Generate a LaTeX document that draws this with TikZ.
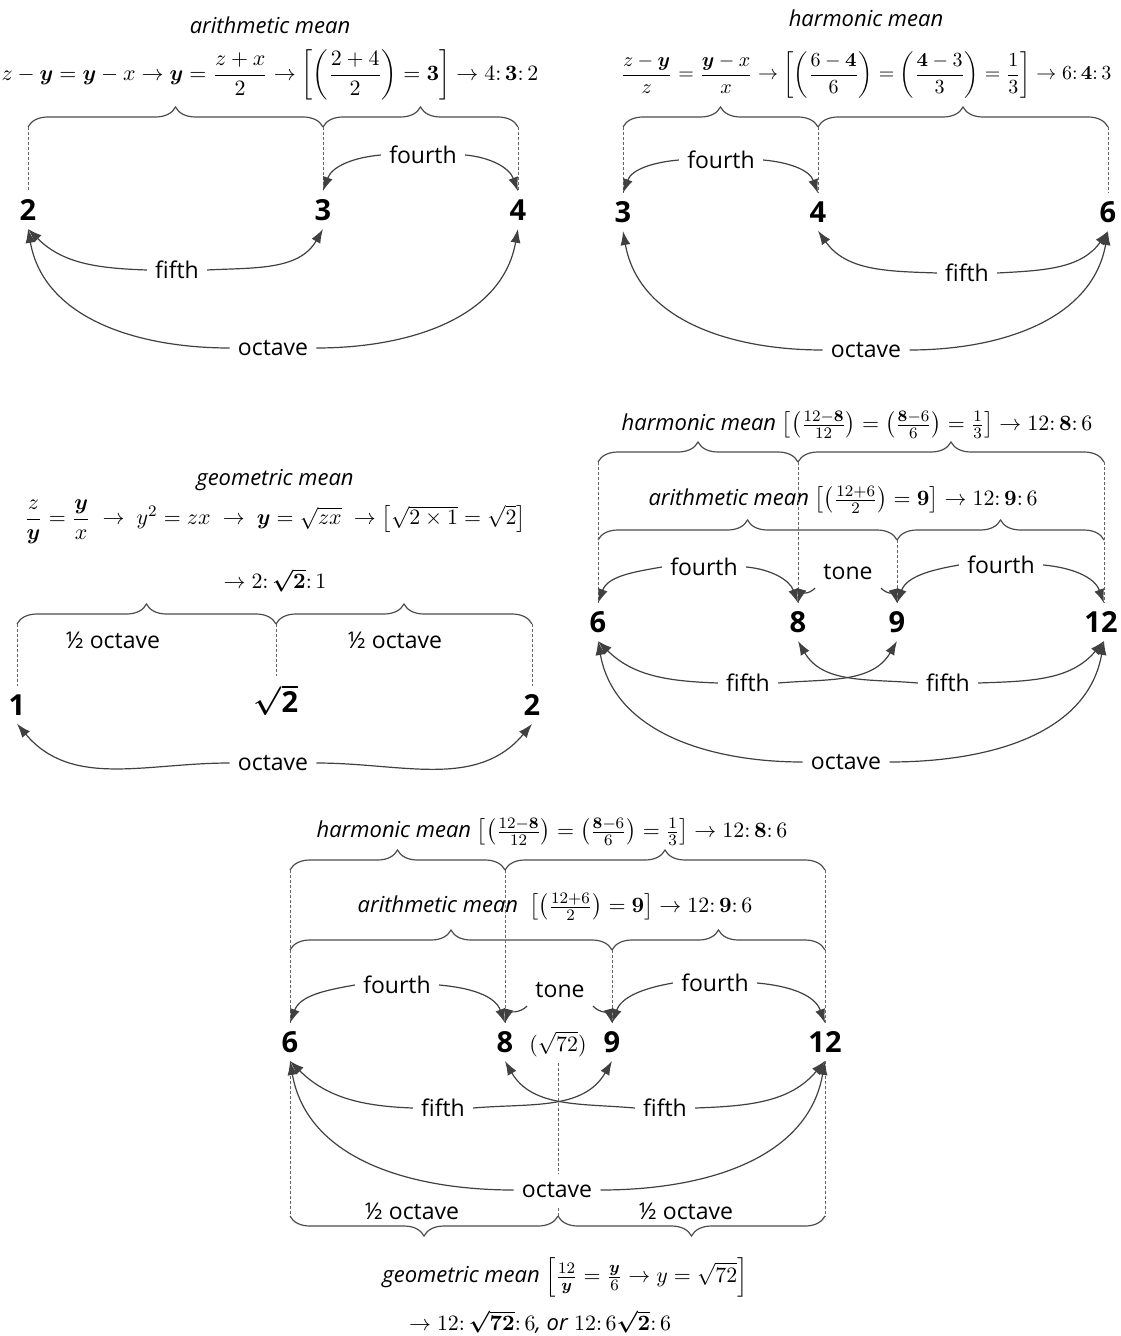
\documentclass[tikz,border=0pt]{standalone}
\usepackage{amsmath,amssymb}
\usepackage[no-math]{fontspec}
\setmainfont{Open Sans}
\usetikzlibrary{arrows.meta,positioning,decorations.pathreplacing}

\begin{document}
\begin{tikzpicture}[x=0.5pt,y=0.5pt,
    num/.style={font=\bfseries\fontsize{14.5}{16}\selectfont,inner sep=4pt},
    lbl/.style={font=\fontsize{11.5}{13}\selectfont,inner sep=4pt,fill=white},
    half/.style={font=\fontsize{11.5}{13}\selectfont,inner sep=1pt},
    ttl/.style={font=\itshape\fontsize{11}{13}\selectfont,inner sep=0pt},
    eqn/.style={font=\fontsize{9.7}{12}\selectfont,inner sep=0pt},
    arr/.style={-{Latex[length=7pt,width=5pt]},draw=black!75,line width=0.6pt},
    brc/.style={decorate,decoration={brace,amplitude=10pt},draw=black!70,line width=0.6pt},
    brcd/.style={decorate,decoration={brace,mirror,amplitude=10pt},draw=black!70,line width=0.6pt},
    dsh/.style={draw=black!60,line width=0.5pt,dash pattern=on 1.5pt off 1pt}
]
\useasboundingbox (0,0) rectangle (1120,-1336);

\node[ttl] (tA) at (270,-25) {arithmetic mean};
\node[eqn,font=\fontsize{10.5}{12}\selectfont] (eA) at (270,-75) {$z-\boldsymbol{y}=\boldsymbol{y}-x\rightarrow\boldsymbol{y}=\dfrac{z+x}{2}\rightarrow\left[\left(\dfrac{2+4}{2}\right)=\mathbf{3}\right]\rightarrow 4{:}\,\mathbf{3}{:}\,2$};
\coordinate (aL) at (28,-127);
\coordinate (aM) at (323,-127);
\coordinate (aR) at (518,-127);
\node[num] (a2) at (28,-210) {2};
\node[num] (a3) at (323,-210) {3};
\node[num] (a4) at (518,-210) {4};
\draw[brc] (aL) -- (aM);
\draw[brc] (aM) -- (aR);
\draw[dsh] (aL) -- (a2.north);
\draw[dsh] (aM) -- (a3.north);
\draw[dsh] (aR) -- (a4.north);
\node[lbl] (aFourth) at (423,-155) {fourth};
\node[lbl] (aFifth) at (177,-270) {fifth};
\node[lbl] (aOctave) at (273,-348) {octave};
\draw[arr] (aFourth.west) to[out=185,in=70] (a3.north);
\draw[arr] (aFourth.east) to[out=-5,in=110] (a4.north);
\draw[arr] (aFifth.west) to[out=178,in=-45] (a2.south);
\draw[arr] (aFifth.east) to[out=3,in=-120] (a3.south);
\draw[arr] (aOctave.west) to[out=180,in=-80] (a2.south);
\draw[arr] (aOctave.east) to[out=0,in=-100] (a4.south);

\node[ttl] (tB) at (866,-18) {harmonic mean};
\node[eqn] (eB) at (866,-75) {$\dfrac{z-\boldsymbol{y}}{z}=\dfrac{\boldsymbol{y}-x}{x}\rightarrow\left[\left(\dfrac{6-\mathbf{4}}{6}\right)=\left(\dfrac{\mathbf{4}-3}{3}\right)=\dfrac{1}{3}\right]\rightarrow 6{:}\,\mathbf{4}{:}\,3$};
\coordinate (bL) at (623,-127);
\coordinate (bM) at (818,-127);
\coordinate (bR) at (1108,-127);
\node[num] (b3) at (623,-212) {3};
\node[num] (b4) at (818,-212) {4};
\node[num] (b6) at (1108,-212) {6};
\draw[brc] (bL) -- (bM);
\draw[brc] (bM) -- (bR);
\draw[dsh] (bL) -- (b3.north);
\draw[dsh] (bM) -- (b4.north);
\draw[dsh] (bR) -- (b6.north);
\node[lbl] (bFourth) at (721,-160) {fourth};
\node[lbl] (bFifth) at (967,-273) {fifth};
\node[lbl] (bOctave) at (866,-350) {octave};
\draw[arr] (bFourth.west) to[out=185,in=70] (b3.north);
\draw[arr] (bFourth.east) to[out=-5,in=110] (b4.north);
\draw[arr] (bFifth.west) to[out=178,in=-55] (b4.south);
\draw[arr] (bFifth.east) to[out=3,in=-125] (b6.south);
\draw[arr] (bOctave.west) to[out=180,in=-80] (b3.south);
\draw[arr] (bOctave.east) to[out=0,in=-100] (b6.south);

\node[ttl] (tC) at (275,-480) {geometric mean};
\node[eqn,font=\fontsize{11.2}{13}\selectfont] (eC) at (275,-522) {$\dfrac{z}{\boldsymbol{y}}=\dfrac{\boldsymbol{y}}{x}\;\rightarrow\;y^2=zx\;\rightarrow\;\boldsymbol{y}=\sqrt{zx}\;\rightarrow\left[\sqrt{2\times1}=\sqrt{2}\right]$};
\node[eqn,font=\fontsize{10.8}{12}\selectfont] (rC) at (275,-580) {$\rightarrow 2{:}\,\boldsymbol{\sqrt{\mathbf{2}}}{:}\,1$};
\coordinate (cL) at (17,-624);
\coordinate (cM) at (276,-624);
\coordinate (cR) at (532,-624);
\node[num] (c1) at (17,-705) {1};
\node[num] (cS) at (276,-700) {$\boldsymbol{\sqrt{\hbox{\bfseries 2}}}$};
\node[num] (c2) at (532,-705) {2};
\draw[brc] (cL) -- (cM);
\draw[brc] (cM) -- (cR);
\draw[dsh] (cL) -- (c1.north);
\draw[dsh] (cM) -- (cS.north);
\draw[dsh] (cR) -- (c2.north);
\node[half] (cHalfL) at (113,-640) {½ octave};
\node[half] (cHalfR) at (395,-640) {½ octave};
\node[lbl] (cOctave) at (273,-763) {octave};
\draw[arr] (cOctave.west) to[out=180,in=-50] (c1.south);
\draw[arr] (cOctave.east) to[out=0,in=-130] (c2.south);

\node[ttl] (tD) at (857,-425) {harmonic mean $\left[\left(\frac{12-\mathbf{8}}{12}\right)=\left(\frac{\mathbf{8}-6}{6}\right)=\frac{1}{3}\right]\rightarrow 12{:}\,\mathbf{8}{:}\,6$};
\node[ttl] (uD) at (843,-500) {arithmetic mean $\left[\left(\frac{12+6}{2}\right)=\mathbf{9}\right]\rightarrow 12{:}\,\mathbf{9}{:}\,6$};
\coordinate (dL) at (598,-462);
\coordinate (dM) at (798,-462);
\coordinate (dR) at (1104,-462);
\coordinate (dL2) at (598,-540);
\coordinate (dM2) at (897,-540);
\coordinate (dR2) at (1104,-540);
\node[num] (d6) at (598,-622) {6};
\node[num] (d8) at (798,-622) {8};
\node[num] (d9) at (897,-622) {9};
\node[num] (d12) at (1101,-622) {12};
\draw[brc] (dL) -- (dM);
\draw[brc] (dM) -- (dR);
\draw[brc] (dL2) -- (dM2);
\draw[brc] (dM2) -- (dR2);
\draw[dsh] (dL) -- (d6.north);
\draw[dsh] (dM) -- (d8.north);
\draw[dsh] (dM2) -- (d9.north);
\draw[dsh] (dR) -- (dR |- d12.north);
\node[lbl] (dFourthL) at (704,-567) {fourth};
\node[lbl] (dTone) at (848,-572) {tone};
\node[lbl] (dFourthR) at (1001,-565) {fourth};
\node[lbl] (dFifthL) at (748,-683) {fifth};
\node[lbl] (dFifthR) at (948,-683) {fifth};
\node[lbl] (dOctave) at (846,-762) {octave};
\draw[arr] (dFourthL.west) to[out=190,in=70] (d6.north);
\draw[arr] (dFourthL.east) to[out=-5,in=110] (d8.north);
\draw[arr] (dTone.south west) to[out=-135,in=75] (d8.north);
\draw[arr] (dTone.south east) to[out=-45,in=105] (d9.north);
\draw[arr] (dFourthR.west) to[out=190,in=70] (d9.north);
\draw[arr] (dFourthR.east) to[out=-5,in=110] (dR |- d12.north);
\draw[arr] (dFifthL.west) to[out=178,in=-45] (d6.south);
\draw[arr] (dFifthL.east) to[out=5,in=-120] (d9.south);
\draw[arr] (dFifthR.west) to[out=175,in=-60] (d8.south);
\draw[arr] (dFifthR.east) to[out=2,in=-130] (dR |- d12.south);
\draw[arr] (dOctave.west) to[out=180,in=-80] (d6.south);
\draw[arr] (dOctave.east) to[out=0,in=-100] (dR |- d12.south);

\node[ttl] (tE) at (552,-832) {harmonic mean $\left[\left(\frac{12-\mathbf{8}}{12}\right)=\left(\frac{\mathbf{8}-6}{6}\right)=\frac{1}{3}\right]\rightarrow 12{:}\,\mathbf{8}{:}\,6$};
\node[ttl] (uE) at (555,-907) {arithmetic mean\ \ $\left[\left(\frac{12+6}{2}\right)=\mathbf{9}\right]\rightarrow 12{:}\,\mathbf{9}{:}\,6$};
\coordinate (eL) at (290,-870);
\coordinate (eM) at (505,-870);
\coordinate (eR) at (825,-870);
\coordinate (eL2) at (290,-950);
\coordinate (eM2) at (612,-950);
\coordinate (eR2) at (825,-950);
\coordinate (eBL) at (290,-1216);
\coordinate (eBM) at (558,-1216);
\coordinate (eBR) at (825,-1216);
\node[num] (e6) at (290,-1042) {6};
\node[num] (e8) at (505,-1042) {8};
\node[eqn,font=\fontsize{10.5}{12}\selectfont,inner sep=3pt] (eS) at (558,-1044) {$(\sqrt{72})$};
\node[num] (e9) at (612,-1042) {9};
\node[num] (e12) at (825,-1042) {12};
\draw[brc] (eL) -- (eM);
\draw[brc] (eM) -- (eR);
\draw[brc] (eL2) -- (eM2);
\draw[brc] (eM2) -- (eR2);
\draw[brcd] (eBL) -- (eBM);
\draw[brcd] (eBM) -- (eBR);
\draw[dsh] (eL) -- (e6.north);
\draw[dsh] (eM) -- (e8.north);
\draw[dsh] (eM2) -- (e9.north);
\draw[dsh] (eR) -- (e12.north);
\draw[dsh] (e6.south) -- (eBL);
\draw[dsh] (e12.south) -- (eBR);
\draw[dsh] (eS.south) -- (eBM);
\node[lbl] (eFourthL) at (397,-985) {fourth};
\node[lbl] (eTone) at (560,-990) {tone};
\node[lbl] (eFourthR) at (715,-983) {fourth};
\node[lbl] (eFifthL) at (443,-1108) {fifth};
\node[lbl] (eFifthR) at (665,-1108) {fifth};
\node[lbl] (eOctave) at (557,-1190) {octave};
\node[half] (eHalfL) at (412,-1211) {½ octave};
\node[half] (eHalfR) at (686,-1211) {½ octave};
\draw[arr] (eFourthL.west) to[out=190,in=70] (e6.north);
\draw[arr] (eFourthL.east) to[out=-5,in=110] (e8.north);
\draw[arr] (eTone.south west) to[out=-135,in=75] (e8.north);
\draw[arr] (eTone.south east) to[out=-45,in=105] (e9.north);
\draw[arr] (eFourthR.west) to[out=190,in=70] (e9.north);
\draw[arr] (eFourthR.east) to[out=-5,in=110] (e12.north);
\draw[arr] (eFifthL.west) to[out=178,in=-45] (e6.south);
\draw[arr] (eFifthL.east) to[out=5,in=-120] (e9.south);
\draw[arr] (eFifthR.west) to[out=175,in=-60] (e8.south);
\draw[arr] (eFifthR.east) to[out=2,in=-130] (e12.south);
\draw[arr] (eOctave.west) to[out=180,in=-80] (e6.south);
\draw[arr] (eOctave.east) to[out=0,in=-100] (e12.south);
\node[ttl] (gE) at (565,-1277) {geometric mean $\left[\frac{12}{\boldsymbol{y}}=\frac{\boldsymbol{y}}{6}\rightarrow y=\sqrt{72}\right]$};
\node[eqn,font=\fontsize{11}{12}\selectfont] (rE) at (540,-1322) {$\rightarrow 12{:}\,\boldsymbol{\sqrt{\mathbf{72}}}{:}\,6$\textit{, or} $12{:}\,6\boldsymbol{\sqrt{\mathbf{2}}}{:}\,6$};
\end{tikzpicture}
\end{document}
